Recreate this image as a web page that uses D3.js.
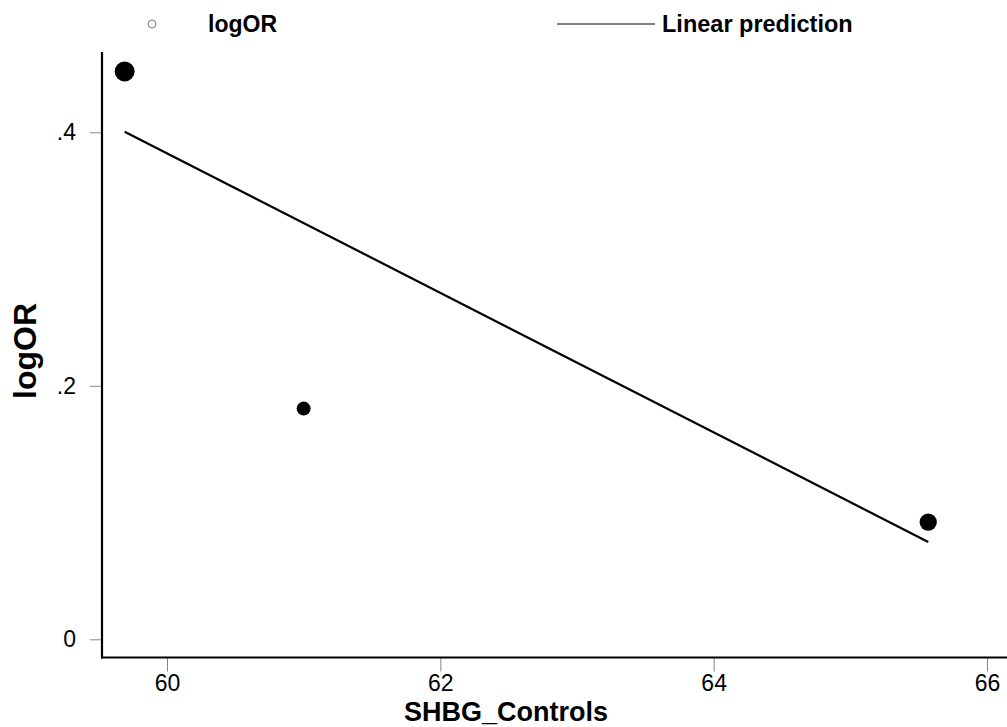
<!DOCTYPE html>
<html>
<head>
<meta charset="utf-8">
<script src="https://cdn.jsdelivr.net/npm/d3@7"></script>
<style>
  html, body { margin: 0; padding: 0; background: #fff; }
  svg { display: block; }
  text { font-family: "Liberation Sans", Arial, Helvetica, sans-serif; fill: #000; }
</style>
</head>
<body>
<svg id="chart" width="1007" height="727"></svg>
<script>
// ---- data ----
const xVals = [59.69, 61.0, 65.57];          // SHBG_Controls
const yVals = [0.448, 0.182, 0.0925];        // logOR
const weights = [100, 49, 75];               // marker weights
const fitX = [59.69, 65.57];                 // linear prediction x
const fitY = [0.4005, 0.0768];               // linear prediction y
const xTicks = [60, 62, 64, 66];
const yTicks = [0, 0.2, 0.4];
const legendLabels = ["logOR", "Linear prediction"];
const xTitle = "SHBG_Controls";
const yTitle = "logOR";

const svg = d3.select("#chart");

const x = d3.scaleLinear().domain([60, 66]).range([167, 987]);
const y = d3.scaleLinear().domain([0, 0.4]).range([639.3, 132.3]);
const r = d3.scaleSqrt().domain([0, 100]).range([0, 10]);

const axisLeftX = 102, axisBottomY = 657.5;

// x axis ticks
const gx = svg.append("g").attr("transform", `translate(0,${axisBottomY})`)
  .call(d3.axisBottom(x).tickValues(xTicks).tickSize(14).tickPadding(3)
    .tickFormat(d => d3.format("d")(d)));
gx.select(".domain").remove();
gx.selectAll(".tick line").attr("stroke", "#888").attr("stroke-width", 1);
gx.selectAll(".tick text").style("font-size", "23px").attr("fill", "#000");

// y axis ticks
const gy = svg.append("g").attr("transform", `translate(${axisLeftX},0)`)
  .call(d3.axisLeft(y).tickValues(yTicks).tickSize(12).tickPadding(14)
    .tickFormat(d => d === 0 ? "0" : d3.format(".1f")(d).replace(/^0/, "")));
gy.select(".domain").remove();
gy.selectAll(".tick line").attr("stroke", "#888").attr("stroke-width", 1);
gy.selectAll(".tick text").style("font-size", "23px").attr("fill", "#000");

// axis lines
svg.append("line").attr("x1", axisLeftX).attr("x2", axisLeftX)
  .attr("y1", 52).attr("y2", axisBottomY + 1).attr("stroke", "#000").attr("stroke-width", 2.2);
svg.append("line").attr("x1", axisLeftX - 1).attr("x2", 1007)
  .attr("y1", axisBottomY).attr("y2", axisBottomY).attr("stroke", "#000").attr("stroke-width", 2.2);

// fitted line
svg.append("path")
  .datum(fitX.map((d, i) => [d, fitY[i]]))
  .attr("d", d3.line().x(d => x(d[0])).y(d => y(d[1])))
  .attr("fill", "none").attr("stroke", "#000").attr("stroke-width", 2.2);

// points
svg.selectAll("circle.pt")
  .data(xVals.map((d, i) => ({ x: d, y: yVals[i], w: weights[i] })))
  .enter().append("circle").attr("class", "pt")
  .attr("cx", d => x(d.x)).attr("cy", d => y(d.y)).attr("r", d => r(d.w))
  .attr("fill", "#000");

// axis titles
svg.append("text").attr("x", 506).attr("y", 721).attr("text-anchor", "middle")
  .style("font-size", "27px").style("font-weight", "bold").text(xTitle);
svg.append("text").attr("transform", "translate(36,351) rotate(-90)")
  .attr("text-anchor", "middle")
  .style("font-size", "32px").style("font-weight", "bold").text(yTitle);

// legend
svg.append("circle").attr("cx", 152).attr("cy", 24).attr("r", 4)
  .attr("fill", "none").attr("stroke", "#777").attr("stroke-width", 1);
svg.append("text").attr("x", 208).attr("y", 32)
  .style("font-size", "23px").style("font-weight", "bold").text(legendLabels[0]);
svg.append("line").attr("x1", 557).attr("x2", 655).attr("y1", 24).attr("y2", 24)
  .attr("stroke", "#000").attr("stroke-width", 1);
svg.append("text").attr("x", 662).attr("y", 32)
  .style("font-size", "23.5px").style("font-weight", "bold").text(legendLabels[1]);
</script>
</body>
</html>
